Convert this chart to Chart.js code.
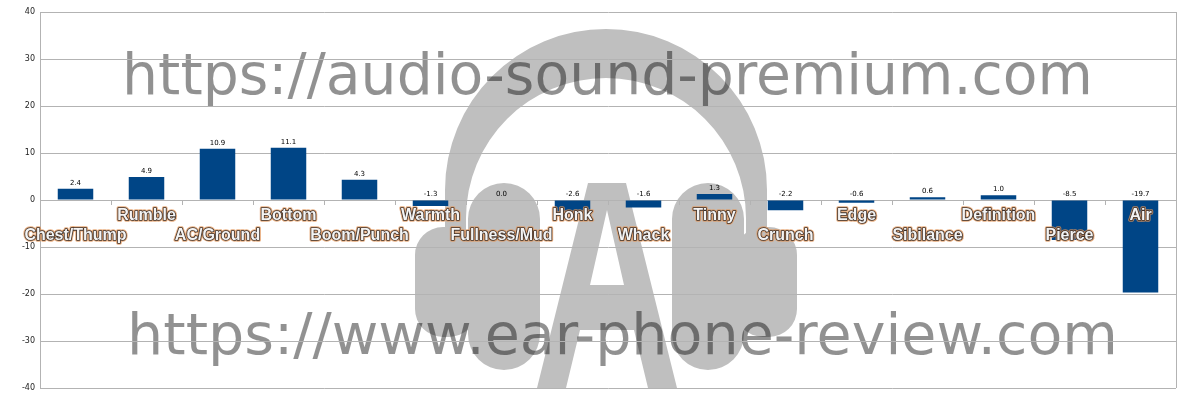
<!DOCTYPE html>
<html>
<head>
<meta charset="utf-8">
<script src="https://cdn.jsdelivr.net/npm/chart.js@4"></script>
<style>
html,body{margin:0;padding:0;background:#fff;}
#wrap{width:1200px;height:400px;}
</style>
</head>
<body>
<div id="wrap"><canvas id="c" width="1200" height="400"></canvas></div>
<script>
const categories = ["Chest/Thump","Rumble","AC/Ground","Bottom","Boom/Punch","Warmth","Fullness/Mud","Honk","Whack","Tinny","Crunch","Edge","Sibilance","Definition","Pierce","Air"];
const values = [2.4, 4.9, 10.9, 11.1, 4.3, -1.3, 0.0, -2.6, -1.6, 1.3, -2.2, -0.6, 0.6, 1.0, -8.5, -19.7];
const yMin = -40, yMax = 40, yStep = 10;
const watermark1 = "https://audio-sound-premium.com";
const watermark2 = "https://www.ear-phone-review.com";

function fitText(ctx, text, cx, baseline, width) {
  ctx.font = "100px 'DejaVu Sans'";
  const w = ctx.measureText(text).width;
  const size = 100 * width / w;
  ctx.font = size + "px 'DejaVu Sans'";
  ctx.textAlign = "center";
  ctx.textBaseline = "alphabetic";
  ctx.fillText(text, cx, baseline);
}

function rr(ctx, x, y, w, h, r) {
  ctx.moveTo(x + r, y);
  ctx.lineTo(x + w - r, y);
  ctx.arcTo(x + w, y, x + w, y + r, r);
  ctx.lineTo(x + w, y + h - r);
  ctx.arcTo(x + w, y + h, x + w - r, y + h, r);
  ctx.lineTo(x + r, y + h);
  ctx.arcTo(x, y + h, x, y + h - r, r);
  ctx.lineTo(x, y + r);
  ctx.arcTo(x, y, x + r, y, r);
  ctx.closePath();
}

const watermarkPlugin = {
  id: 'wm',
  beforeDraw(chart) {
    const ctx = chart.ctx;
    ctx.save();
    ctx.fillStyle = '#ffffff';
    ctx.fillRect(0, 0, chart.width, chart.height);
    // logo
    ctx.fillStyle = '#bfbfbf';
    ctx.beginPath();
    ctx.moveTo(445, 240);
    ctx.arc(606, 190, 161, Math.PI, 2 * Math.PI);
    ctx.lineTo(767, 240);
    ctx.lineTo(746, 240);
    ctx.arc(606, 218, 140, 0, Math.PI, true);
    ctx.lineTo(466, 240);
    ctx.closePath();
    ctx.fill();
    ctx.beginPath();
    rr(ctx, 468, 183, 72, 187, 36);
    rr(ctx, 415, 227, 62, 110, 28);
    rr(ctx, 672, 183, 72, 187, 36);
    rr(ctx, 735, 227, 62, 110, 28);
    ctx.fill();
    // letter A
    ctx.beginPath();
    ctx.moveTo(588, 183); ctx.lineTo(626, 183); ctx.lineTo(677, 388); ctx.lineTo(537, 388); ctx.closePath();
    ctx.moveTo(607, 210); ctx.lineTo(624, 285); ctx.lineTo(590, 285); ctx.closePath();
    ctx.moveTo(580, 330); ctx.lineTo(634, 330); ctx.lineTo(648, 388); ctx.lineTo(566, 388); ctx.closePath();
    ctx.fill('evenodd');
    // text
    ctx.fillStyle = 'rgba(0,0,0,0.43)';
    fitText(ctx, watermark1, 607.5, 94, 971);
    fitText(ctx, watermark2, 622.5, 354, 991);
    ctx.restore();
  },
  afterDatasetsDraw(chart) {
    const ctx = chart.ctx;
    const xs = chart.scales.x, ys = chart.scales.y;
    const ca = chart.chartArea;
    const y0 = ys.getPixelForValue(0);
    ctx.save();
    // right border
    ctx.strokeStyle = '#b3b3b3';
    ctx.lineWidth = 1;
    ctx.beginPath();
    ctx.moveTo(Math.round(ca.right) + 0.5, ca.top);
    ctx.lineTo(Math.round(ca.right) + 0.5, ca.bottom);
    ctx.stroke();
    // tick marks at category boundaries
    ctx.beginPath();
    for (let i = 1; i < categories.length; i++) {
      const bx = Math.round((xs.getPixelForValue(i - 1) + xs.getPixelForValue(i)) / 2) + 0.5;
      ctx.moveTo(bx, y0);
      ctx.lineTo(bx, y0 + 5);
    }
    ctx.stroke();
    // value labels
    ctx.fillStyle = '#000';
    ctx.font = "7px 'DejaVu Sans'";
    ctx.textAlign = 'center';
    ctx.textBaseline = 'alphabetic';
    values.forEach((v, i) => {
      const x = xs.getPixelForValue(i);
      const top = Math.min(ys.getPixelForValue(v), y0);
      ctx.fillText(v.toFixed(1), x, top - 4);
    });
    // category labels
    ctx.font = "bold 16px 'Liberation Sans'";
    ctx.lineJoin = 'round';
    categories.forEach((c, i) => {
      const x = xs.getPixelForValue(i);
      const y = y0 + (i % 2 === 0 ? 40 : 20);
      ctx.strokeStyle = 'rgba(225,150,90,0.75)';
      ctx.lineWidth = 3.5;
      ctx.strokeText(c, x, y);
      ctx.strokeStyle = '#3a2e28';
      ctx.lineWidth = 1.6;
      ctx.strokeText(c, x, y);
      ctx.fillStyle = '#f4f4f4';
      ctx.fillText(c, x, y);
    });
    ctx.restore();
  }
};

new Chart(document.getElementById('c'), {
  type: 'bar',
  data: {
    labels: categories,
    datasets: [{
      data: values,
      backgroundColor: '#004586',
      borderWidth: 0,
      barPercentage: 0.5,
      categoryPercentage: 1.0
    }]
  },
  options: {
    responsive: false,
    animation: false,
    devicePixelRatio: 1,
    layout: { padding: { left: 0, right: 24, top: 12, bottom: 12 } },
    plugins: { legend: { display: false }, tooltip: { enabled: false } },
    scales: {
      x: { display: false },
      y: {
        min: yMin, max: yMax,
        ticks: { stepSize: yStep, color: '#222', font: { family: 'DejaVu Sans', size: 8 }, padding: 5 },
        grid: { color: '#b3b3b3', drawTicks: false, lineWidth: 1 },
        border: { display: true, color: '#b3b3b3' },
        afterFit(scale) { scale.width = 40; }
      }
    }
  },
  plugins: [watermarkPlugin]
});
</script>
</body>
</html>
